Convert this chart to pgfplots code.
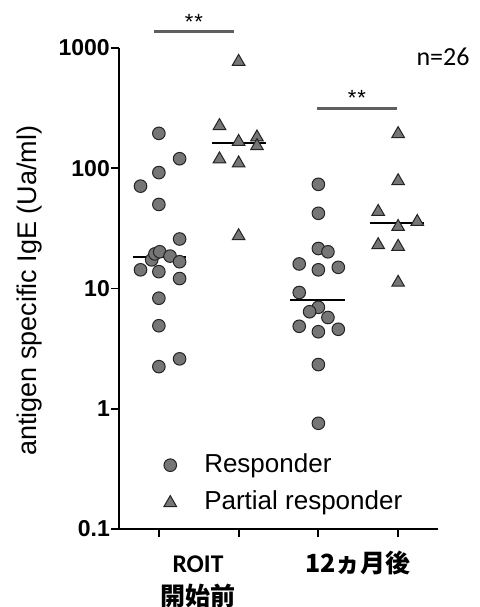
\documentclass[border=0pt]{standalone}
\usepackage{fontspec}
\setmainfont{Liberation Sans}
\newfontfamily\carlito{Carlito}
\newfontfamily\cjk{Noto Sans CJK JP}
\usepackage{pgfplots}
\pgfplotsset{compat=1.18}

\definecolor{markfill}{RGB}{118,118,118}
\definecolor{markedge}{RGB}{35,35,35}
\definecolor{barcol}{RGB}{95,95,95}

\begin{document}
\begin{tikzpicture}
\begin{axis}[
    scale only axis, width=319bp, height=481bp,
    ymode=log, ymin=0.1, ymax=1000,
    xmin=-0.5, xmax=3.5,
    axis lines*=left,
    axis line style={line width=1.8bp},
    tick align=outside,
    major tick length=8bp,
    minor tick length=0pt,
    tick style={black, line width=1.8bp},
    minor y tick style={draw=none},
    xtick={0,1,2,3}, xticklabels={{},{},{},{}},
    ytick={0.1,1,10,100,1000},
    yticklabels={0.1,1,10,100,1000},
    yticklabel style={font=\fontsize{23bp}{23bp}\selectfont\bfseries, inner sep=1bp},
    ylabel={antigen specific IgE (Ua/ml)},
    every axis y label/.style={at={(rel axis cs:-0.282,0.495)}, rotate=90, anchor=center,
        font=\fontsize{27bp}{27bp}\selectfont},
    clip=false,
    legend style={draw=none, fill=none, at={(rel axis cs:0.135,0.158)}, anchor=north west,
        font=\fontsize{26bp}{26bp}\selectfont, column sep=26bp, row sep=13.7bp, inner sep=0pt,
        nodes={inner sep=0pt, text height=19bp, text depth=5bp}},
    legend cell align=left,
    legend image code/.code={\draw[#1] plot coordinates {(0bp,0bp)}; \path[draw=none,fill=none] (-8bp,-8bp) rectangle (8bp,8bp);},
    resp/.style={only marks, mark=*, mark size=6.3bp,
        mark options={fill=markfill, draw=markedge, line width=1bp}},
    part/.style={only marks, mark=triangle*, mark size=7.3bp,
        mark options={fill=markfill, draw=markedge, line width=1bp}},
    med/.style={black, line width=2.2bp, forget plot},
]

% medians
\addplot[med] coordinates {(-0.33,18.4) (0.34,18.4)};
\addplot[med] coordinates {(0.67,161) (1.34,161)};
\addplot[med] coordinates {(1.65,8.02) (2.34,8.02)};
\addplot[med] coordinates {(2.65,35.3) (3.33,35.3)};

% ROIT start, responder
\addplot[resp] coordinates {
    (0.00,195) (0.26,120) (0.00,92) (-0.23,71) (0.00,50) (0.26,25.8)
    (-0.09,17.3) (-0.05,19.4) (0.01,20.2) (0.14,18.6) (0.26,16.7)
    (-0.23,14.3) (0.00,13.8) (0.26,12.1) (0.00,8.3) (0.00,4.9)
    (0.26,2.6) (0.00,2.24)
};
\addlegendentry{Responder}

% ROIT start, partial responder
\addplot[part] coordinates {
    (1.00,769) (0.76,225) (1.00,166) (1.23,181) (1.23,153)
    (0.76,119) (1.00,110) (1.00,27.3)
};
\addlegendentry{Partial responder}

% 12 months, responder
\addplot[resp, forget plot] coordinates {
    (2.00,73.5) (2.00,42.2) (2.00,21.5) (2.12,20.2) (1.76,16.0)
    (2.00,14.3) (2.25,15.0) (1.76,9.26) (2.00,6.98) (1.89,6.41)
    (2.12,5.74) (1.76,4.85) (2.00,4.37) (2.25,4.58) (2.00,2.33)
    (2.00,0.757)
};

% 12 months, partial responder
\addplot[part, forget plot] coordinates {
    (3.00,193) (3.00,78.3) (2.75,43.5) (3.00,32.6) (3.24,35.9)
    (2.75,23.0) (3.00,22.3) (3.00,11.2)
};

% significance bars
\addplot[barcol, line width=3bp, forget plot] coordinates {(-0.06,1384) (0.94,1384)};
\addplot[barcol, line width=3bp, forget plot] coordinates {(1.98,311) (2.99,311)};
\end{axis}

\node[anchor=base, font=\fontsize{22bp}{22bp}\selectfont] at (75bp,499bp) {*\kern1bp*};
\node[anchor=base, font=\fontsize{22bp}{22bp}\selectfont] at (238bp,423bp) {*\kern1bp*};
\node[font=\carlito\fontsize{26bp}{26bp}\selectfont] at (324bp,472bp) {n=26};
\node[anchor=base, font=\carlito\bfseries\fontsize{25.5bp}{25.5bp}\selectfont] at (79bp,-43.5bp) {ROIT};
\node[anchor=base, font=\cjk\bfseries\fontsize{25bp}{25bp}\selectfont] at (79bp,-76bp) {開始前};
\node[anchor=base, font=\cjk\bfseries\fontsize{25bp}{25bp}\selectfont] at (239bp,-43.5bp) {12ヵ月後};

\pgfresetboundingbox
\useasboundingbox (-119bp,-78bp) rectangle (361bp,529bp);
\end{tikzpicture}
\end{document}
